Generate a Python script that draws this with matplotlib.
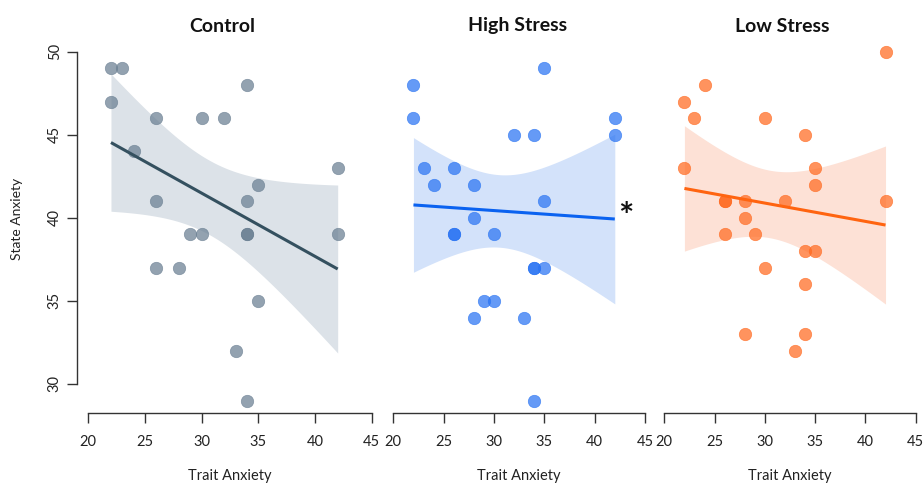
import numpy as np
import matplotlib
matplotlib.use("Agg")
import matplotlib.pyplot as plt

plt.rcParams['font.family'] = ['Lato', 'DejaVu Sans']

groups = ["Control", "High Stress", "Low Stress"]

control_x = [22, 23, 22, 26, 30, 32, 34, 24, 42, 35, 26, 34, 29, 30, 34, 34, 42, 26, 28, 35, 33, 34]
control_y = [49, 49, 47, 46, 46, 46, 48, 44, 43, 42, 41, 41, 39, 39, 39, 39, 39, 37, 37, 35, 32, 29]

high_x = [22, 22, 35, 32, 34, 42, 42, 23, 26, 24, 28, 35, 28, 26, 26, 30, 34, 34, 35, 29, 30, 28, 33, 34]
high_y = [48, 46, 49, 45, 45, 46, 45, 43, 43, 42, 42, 41, 40, 39, 39, 39, 37, 37, 37, 35, 35, 34, 34, 29]

low_x = [42, 24, 22, 23, 30, 34, 22, 35, 35, 26, 26, 28, 32, 42, 28, 26, 29, 34, 35, 30, 34, 28, 34, 33]
low_y = [50, 48, 47, 46, 46, 45, 43, 43, 42, 41, 41, 41, 41, 41, 40, 39, 39, 38, 38, 37, 36, 33, 33, 32]

x_ticks = [20, 25, 30, 35, 40, 45]
y_ticks = [30, 35, 40, 45, 50]

point_colors = ["#6a7f92", "#2a74f3", "#ff6a20"]
line_colors = ["#34505f", "#0a62f0", "#ff6410"]
band_colors = ["#dce2e8", "#d3e2fa", "#fde1d6"]

data = [(control_x, control_y), (high_x, high_y), (low_x, low_y)]

W, H = 924, 484
fig = plt.figure(figsize=(W / 100, H / 100), dpi=100)

panels_px = [(88.3, 371.7), (393.3, 645.0), (664.3, 915.7)]
title_px = [222, 518, 782]
bottom_px, top_px = 413.0, 40.0
y_lo = 30 - (bottom_px - 384.0) / 16.6
y_hi = 50 + (51.7 - top_px) / 16.6

for i, ((gx, gy), (l, r)) in enumerate(zip(data, panels_px)):
    ax = fig.add_axes([l / W, (H - bottom_px) / H, (r - l) / W, (bottom_px - top_px) / H])
    x = np.array(gx, float)
    y = np.array(gy, float)
    n = len(x)
    b, a = np.polyfit(x, y, 1)
    xs = np.linspace(x.min(), x.max(), 100)
    yhat = a + b * xs
    resid = y - (a + b * x)
    s = np.sqrt(np.sum(resid ** 2) / (n - 2))
    tval = 2.07
    se = s * np.sqrt(1 / n + (xs - x.mean()) ** 2 / np.sum((x - x.mean()) ** 2))
    ax.fill_between(xs, yhat - tval * se, yhat + tval * se, color=band_colors[i], lw=0, zorder=1)
    ax.scatter(x, y, s=80, color=point_colors[i], alpha=0.72, linewidths=0.5,
               edgecolors=point_colors[i], zorder=3, clip_on=False)
    ax.plot(xs, yhat, color=line_colors[i], lw=2.2, zorder=4, solid_capstyle='butt')

    ax.set_xlim(20, 45)
    ax.set_ylim(y_lo, y_hi)
    for sp in ["top", "right"]:
        ax.spines[sp].set_visible(False)
    ax.spines["bottom"].set_bounds(20, 45)
    ax.spines["bottom"].set_color("#333333")
    ax.spines["bottom"].set_linewidth(1.0)
    ax.set_xticks(x_ticks)
    ax.set_xticklabels([str(t) for t in x_ticks], fontsize=10.5, color="#222222")
    ax.tick_params(axis="x", length=7, width=1.0, color="#333333", pad=9)
    if i == 0:
        ax.spines["left"].set_position(("outward", 11.3 * 72 / 100))
        ax.spines["left"].set_bounds(30, 50)
        ax.spines["left"].set_color("#333333")
        ax.spines["left"].set_linewidth(1.0)
        ax.set_yticks(y_ticks)
        ax.set_yticklabels([str(t) for t in y_ticks], fontsize=10.5, color="#222222",
                           rotation=90, va="center")
        ax.tick_params(axis="y", length=7, width=1.0, color="#333333", pad=4)
    else:
        ax.spines["left"].set_visible(False)
        ax.set_yticks([])
    ax.patch.set_alpha(0)
    fig.text(title_px[i] / W, 1 - 26 / H, groups[i], ha="center", va="center",
             fontsize=14, fontweight="bold", color="#111111")
    fig.text(((l + r) / 2) / W, 1 - 476 / H, "Trait Anxiety", ha="center", va="center",
             fontsize=10.5, color="#222222")

fig.text(17 / W, 1 - 218.5 / H, "State Anxiety", ha="center", va="center",
         rotation=90, fontsize=10, color="#222222")
fig.text(626 / W, 1 - 228 / H, "*", ha="center", va="baseline", fontsize=26,
         fontweight="bold", color="#111111")

fig.savefig("out.png", dpi=100)
